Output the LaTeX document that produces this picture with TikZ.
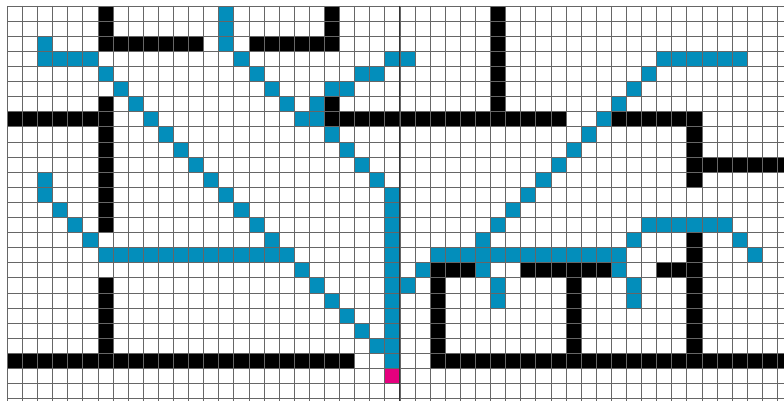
\documentclass[tikz,border=0pt]{standalone}
\definecolor{pxblue}{HTML}{038EBB}
\definecolor{pxpink}{HTML}{E5007E}
\definecolor{pxblack}{HTML}{000000}
\newcommand\hrun[4]{\fill[#1] (#3,{-(#2)}) rectangle ({#4+1},{-(#2)-1});}
\newcommand\vrun[4]{\fill[#1] (#2,{-(#3)}) rectangle ({#2+1},{-(#4)-1});}
\newcommand\pxcell[3]{\fill[#1] (#2,{-(#3)}) rectangle ({#2+1},{-(#3)-1});}
\tikzset{gridline/.style={draw=black!60,line width=0.6pt},
  axisline/.style={draw=black!80,line width=0.9pt}}
\begin{document}
\begin{tikzpicture}[x=0.5cm,y=0.5cm]
\useasboundingbox (-0.483,0.397) rectangle (51.44,-26.16);
\clip (-0.483,0.397) rectangle (51.44,-26.16);
\fill[white] (-0.483,0.397) rectangle (51.44,-26.16);
% black walls
\vrun{pxblack}{6}{0}{2}
\hrun{pxblack}{2}{7}{12}
\vrun{pxblack}{21}{0}{2}
\hrun{pxblack}{2}{16}{20}
\vrun{pxblack}{32}{0}{6}
\hrun{pxblack}{7}{21}{36}
\pxcell{pxblack}{21}{6}
\hrun{pxblack}{7}{0}{5}
\vrun{pxblack}{6}{6}{14}
\hrun{pxblack}{7}{40}{45}
\vrun{pxblack}{45}{8}{11}
\hrun{pxblack}{10}{46}{51}
\vrun{pxblack}{6}{18}{22}
\hrun{pxblack}{23}{0}{22}
\hrun{pxblack}{17}{28}{30}
\vrun{pxblack}{28}{18}{22}
\hrun{pxblack}{23}{28}{51}
\hrun{pxblack}{17}{34}{39}
\vrun{pxblack}{37}{18}{22}
\hrun{pxblack}{17}{43}{45}
\vrun{pxblack}{45}{15}{22}
% blue paths
\pxcell{pxblue}{2}{2}
\hrun{pxblue}{3}{2}{5}
\foreach \r in {4,...,22} {\pxcell{pxblue}{\r+2}{\r}}
\vrun{pxblue}{2}{11}{12}
\foreach \r in {13,14,15} {\pxcell{pxblue}{\r-10}{\r}}
\hrun{pxblue}{16}{6}{18}
\vrun{pxblue}{14}{0}{2}
\foreach \r in {3,...,7} {\pxcell{pxblue}{\r+12}{\r}}
\pxcell{pxblue}{20}{7}
\foreach \r in {8,...,11} {\pxcell{pxblue}{\r+13}{\r}}
\vrun{pxblue}{25}{12}{23}
\pxcell{pxblue}{20}{6}
\hrun{pxblue}{5}{21}{22}
\hrun{pxblue}{4}{23}{24}
\hrun{pxblue}{3}{25}{26}
\hrun{pxblue}{3}{43}{48}
\foreach \r in {4,...,15} {\pxcell{pxblue}{46-\r}{\r}}
\hrun{pxblue}{16}{28}{40}
\pxcell{pxblue}{27}{17}
\pxcell{pxblue}{26}{18}
\pxcell{pxblue}{31}{17}
\vrun{pxblue}{32}{18}{19}
\pxcell{pxblue}{41}{15}
\hrun{pxblue}{14}{42}{47}
\pxcell{pxblue}{48}{15}
\pxcell{pxblue}{49}{16}
\pxcell{pxblue}{40}{17}
\vrun{pxblue}{41}{18}{19}
% start cell
\pxcell{pxpink}{25}{24}
% grid
\foreach \i in {0,...,52} {\draw[gridline] (\i,0) -- (\i,-27);}
\foreach \j in {0,...,27} {\draw[gridline] (0,-\j) -- (52,-\j);}
\draw[axisline] (26,0) -- (26,-27);
\end{tikzpicture}
\end{document}
